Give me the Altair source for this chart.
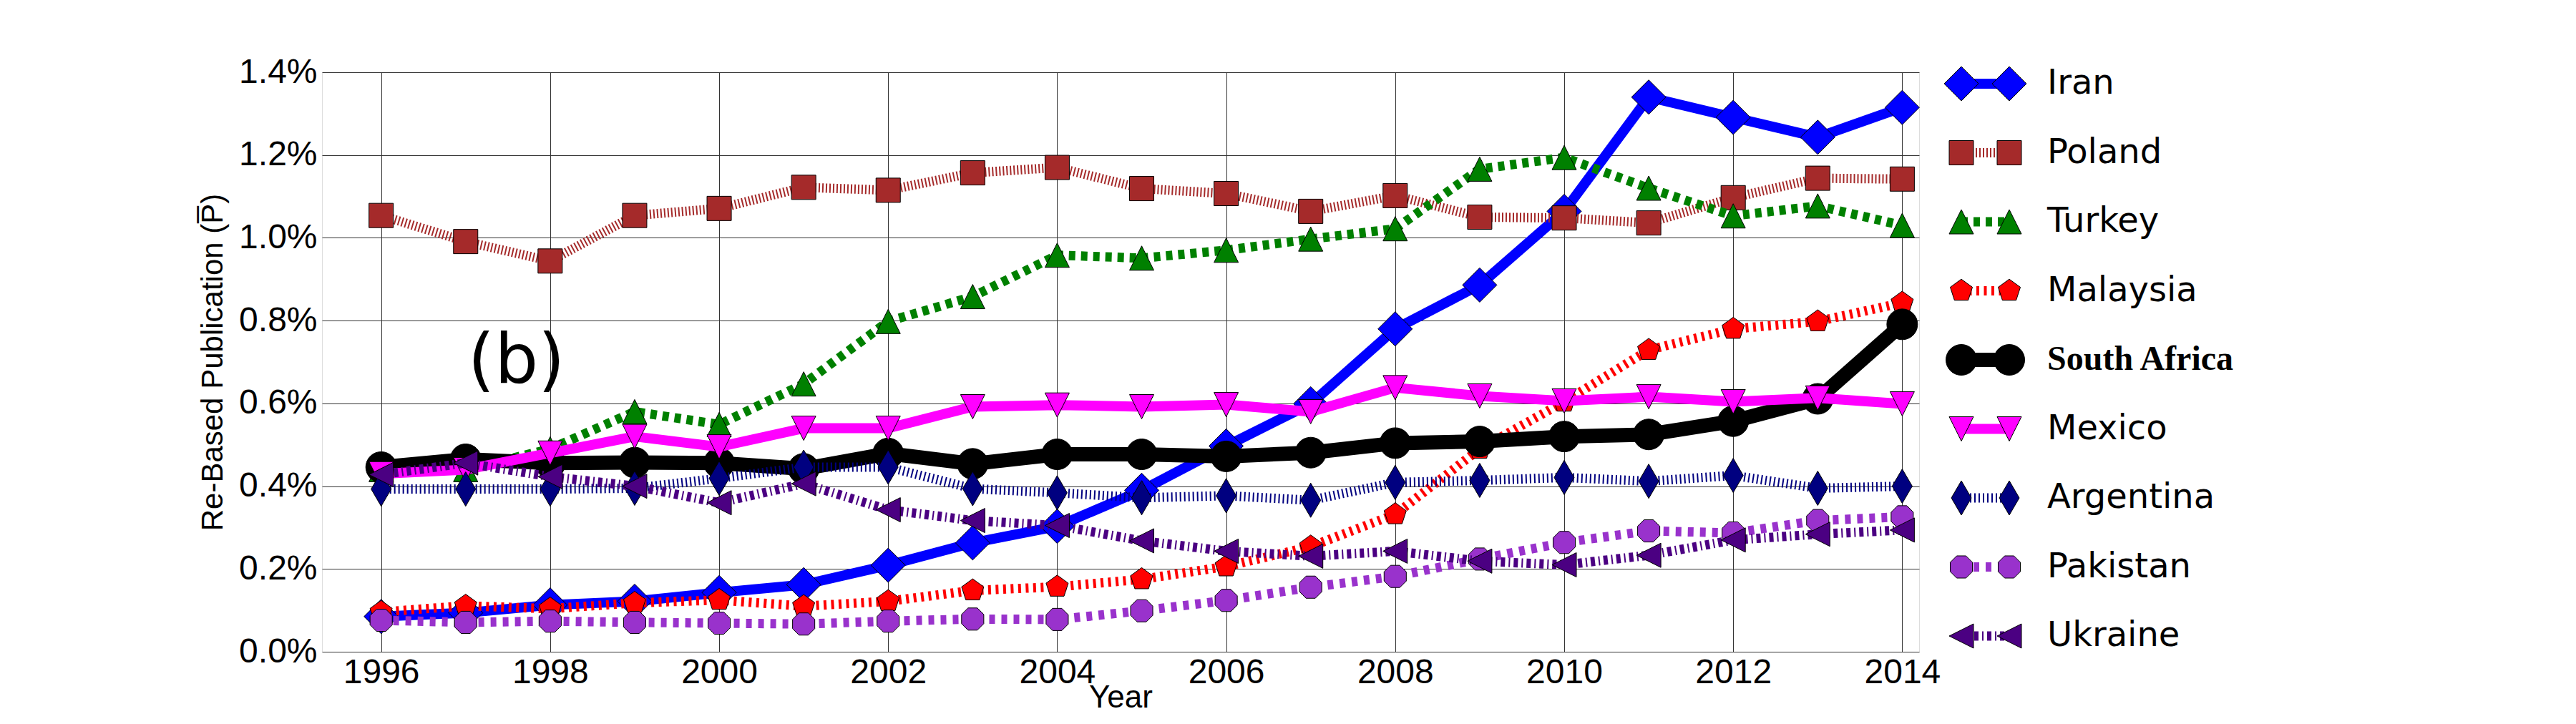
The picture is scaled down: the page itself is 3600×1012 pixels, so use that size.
import altair as alt
import pandas as pd

# ---------------- data ----------------
years = list(range(1996, 2015))
countries = ["Iran", "Poland", "Turkey", "Malaysia", "South Africa",
             "Mexico", "Argentina", "Pakistan", "Ukraine"]

iran = [0.085, 0.094, 0.113, 0.122, 0.143, 0.162, 0.209, 0.263, 0.303, 0.390,
        0.497, 0.599, 0.780, 0.886, 1.064, 1.340, 1.291, 1.243, 1.315]
poland = [1.054, 0.991, 0.944, 1.054, 1.071, 1.122, 1.115, 1.157, 1.170, 1.119,
          1.107, 1.064, 1.102, 1.050, 1.048, 1.036, 1.097, 1.144, 1.142]
turkey = [0.440, 0.440, 0.490, 0.580, 0.549, 0.647, 0.798, 0.858, 0.958, 0.951,
          0.970, 0.997, 1.022, 1.166, 1.194, 1.120, 1.053, 1.077, 1.030]
malaysia = [0.096, 0.111, 0.104, 0.118, 0.125, 0.110, 0.122, 0.148, 0.157, 0.175,
            0.206, 0.254, 0.332, 0.490, 0.604, 0.729, 0.780, 0.798, 0.843]
south_africa = [0.446, 0.465, 0.456, 0.457, 0.456, 0.442, 0.479, 0.454, 0.477, 0.477,
                0.472, 0.481, 0.504, 0.508, 0.520, 0.525, 0.557, 0.611, 0.791]
mexico = [0.430, 0.440, 0.480, 0.520, 0.495, 0.540, 0.540, 0.592, 0.596, 0.592,
          0.597, 0.580, 0.638, 0.618, 0.606, 0.616, 0.604, 0.613, 0.599]
argentina = [0.393, 0.393, 0.393, 0.395, 0.419, 0.446, 0.446, 0.394, 0.384, 0.372,
             0.377, 0.366, 0.409, 0.414, 0.421, 0.412, 0.426, 0.395, 0.400]
pakistan = [0.076, 0.071, 0.074, 0.071, 0.069, 0.067, 0.074, 0.079, 0.078, 0.099,
            0.124, 0.156, 0.182, 0.224, 0.264, 0.292, 0.287, 0.317, 0.326]
ukraine = [0.428, 0.456, 0.423, 0.400, 0.360, 0.406, 0.343, 0.317, 0.305, 0.268,
           0.243, 0.231, 0.243, 0.219, 0.210, 0.233, 0.270, 0.284, 0.294]

values = {"Iran": iran, "Poland": poland, "Turkey": turkey, "Malaysia": malaysia,
          "South Africa": south_africa, "Mexico": mexico, "Argentina": argentina,
          "Pakistan": pakistan, "Ukraine": ukraine}

x_ticks = [1996, 1998, 2000, 2002, 2004, 2006, 2008, 2010, 2012, 2014]
y_ticks = [0.0, 0.2, 0.4, 0.6, 0.8, 1.0, 1.2, 1.4]

ann_x = [1997.6]
ann_y = [0.65]
ann_text = ["(b)"]

# ---------------- styles ----------------
TRI_UP = "M0,-1L1,1L-1,1Z"
TRI_DOWN = "M-1,-1L1,-1L0,1Z"
TRI_LEFT = "M-1,0L1,-1L1,1Z"
DIAMOND = "M-1,0L0,-1L1,0L0,1Z"
THIN_DIAMOND = "M-0.583,0L0,-1L0.583,0L0,1Z"
PENTAGON = "M0,-1L0.951,-0.309L0.588,0.809L-0.588,0.809L-0.951,-0.309Z"
OCTAGON = ("M0.924,0.383L0.383,0.924L-0.383,0.924L-0.924,0.383L-0.924,-0.383"
           "L-0.383,-0.924L0.383,-0.924L0.924,-0.383Z")

styles = {
    "Iran":         dict(color="#0000FF", width=14, dash=None,         shape=DIAMOND,      size=2304),
    "Poland":       dict(color="#A52A2A", width=13, dash=[2, 3],       shape="square",     size=1156),
    "Turkey":       dict(color="#008000", width=13, dash=[9, 8],       shape=TRI_UP,       size=1156),
    "Malaysia":     dict(color="#FF0000", width=13, dash=[4, 6.5],     shape=PENTAGON,     size=1063),
    "South Africa": dict(color="#000000", width=20, dash=None,         shape="circle",     size=1849),
    "Mexico":       dict(color="#FF00FF", width=14, dash=None,         shape=TRI_DOWN,     size=1156),
    "Argentina":    dict(color="#000080", width=13, dash=[2, 4],       shape=THIN_DIAMOND, size=2304),
    "Pakistan":     dict(color="#9932CC", width=13, dash=[8, 9],       shape=OCTAGON,      size=1129),
    "Ukraine":      dict(color="#4B0082", width=13, dash=[6, 5, 2, 5], shape=TRI_LEFT,     size=1156),
}

PLOT_W, PLOT_H = 2232, 810

x_scale = alt.Scale(domain=[1995.3, 2014.2], nice=False, zero=False)
y_scale = alt.Scale(domain=[0, 1.4], nice=False, zero=False)

x_axis = alt.Axis(values=x_ticks, format="d", title="Year",
                  labelFontSize=48, labelPadding=5, ticks=False, domain=False,
                  grid=True, gridColor="#333333", gridWidth=1,
                  labelFlush=False, labelOverlap=False, labelColor="black",
                  titleFontSize=44, titleFontWeight="normal", titleColor="black",
                  titleY=77, titleBaseline="alphabetic")
y_axis = alt.Axis(values=y_ticks, labelExpr="format(datum.value, '.1f') + '%'",
                  title="Re-Based Publication (P\u0305)",
                  labelFontSize=48, labelPadding=7, ticks=False, domain=False,
                  grid=True, gridColor="#333333", gridWidth=1,
                  labelOverlap=False, labelColor="black",
                  titleFontSize=42, titleFontWeight="normal", titleColor="black",
                  titleX=-140, titleY=PLOT_H / 2, titleAngle=270,
                  titleBaseline="alphabetic", titleAlign="center")


def line_kwargs(st):
    kw = dict(color=st["color"], strokeWidth=st["width"], strokeJoin="round",
              strokeCap="butt", opacity=1)
    if st["dash"]:
        kw["strokeDash"] = st["dash"]
    return kw


def point_kwargs(st):
    return dict(filled=True, fill=st["color"], stroke="black", strokeWidth=1,
                shape=st["shape"], size=st["size"], opacity=1, fillOpacity=1)


# ---------------- main plot ----------------
main_layers = []
for c in countries:
    st = styles[c]
    df = pd.DataFrame({"year": years, "value": values[c]})
    enc = dict(x=alt.X("year:Q", scale=x_scale, axis=x_axis),
               y=alt.Y("value:Q", scale=y_scale, axis=y_axis))
    main_layers.append(alt.Chart(df).mark_line(**line_kwargs(st)).encode(**enc))
    main_layers.append(alt.Chart(df).mark_point(**point_kwargs(st)).encode(**enc))

ann_df = pd.DataFrame({"x": ann_x, "y": ann_y, "t": ann_text})
main_layers.append(
    alt.Chart(ann_df).mark_text(font="DejaVu Sans", fontSize=96, align="center",
                                baseline="alphabetic", color="black")
    .encode(x=alt.X("x:Q", scale=x_scale, axis=x_axis),
            y=alt.Y("y:Q", scale=y_scale, axis=y_axis),
            text="t:N"))

main = alt.layer(*main_layers)

# ---------------- legend (drawn through its own scales) ----------------
leg_df = pd.DataFrame({"country": [c for c in countries for _ in (0, 1)],
                       "pos": [0, 1] * len(countries)})
lx = alt.Scale(domain=[0, 1], range=[2291, 2358])
ly = alt.Scale(type="point", domain=countries, range=[16, 788], padding=0)

legend_layers = []
for c in countries:
    st = styles[c]
    sub = leg_df[leg_df["country"] == c]
    enc = dict(x=alt.X("pos:Q", scale=lx, axis=None),
               y=alt.Y("country:N", scale=ly, axis=None))
    legend_layers.append(alt.Chart(sub).mark_line(**line_kwargs(st)).encode(**enc))
    legend_layers.append(alt.Chart(sub).mark_point(**point_kwargs(st)).encode(**enc))
    if c == "South Africa":
        tkw = dict(font="Liberation Serif", fontWeight="bold")
    else:
        tkw = dict(font="DejaVu Sans", fontWeight="normal")
    legend_layers.append(
        alt.Chart(sub[sub["pos"] == 1]).mark_text(align="left", baseline="middle",
                                                  dx=53, fontSize=48, color="black", **tkw)
        .encode(text="country:N", **enc))

legend = alt.layer(*legend_layers)

chart = (
    alt.layer(main, legend)
    .resolve_scale(x="independent", y="independent")
    .properties(width=PLOT_W, height=PLOT_H,
                autosize=alt.AutoSizeParams(type="none"),
                padding={"left": 442, "top": 93, "right": 500, "bottom": 89})
    .configure_view(stroke="black", strokeWidth=1.5)
    .configure_axis(labelFont="DejaVu Sans", titleFont="DejaVu Sans")
    .configure(background="white")
)

chart.save("out.html", embed_options={"renderer": "svg", "actions": False})
